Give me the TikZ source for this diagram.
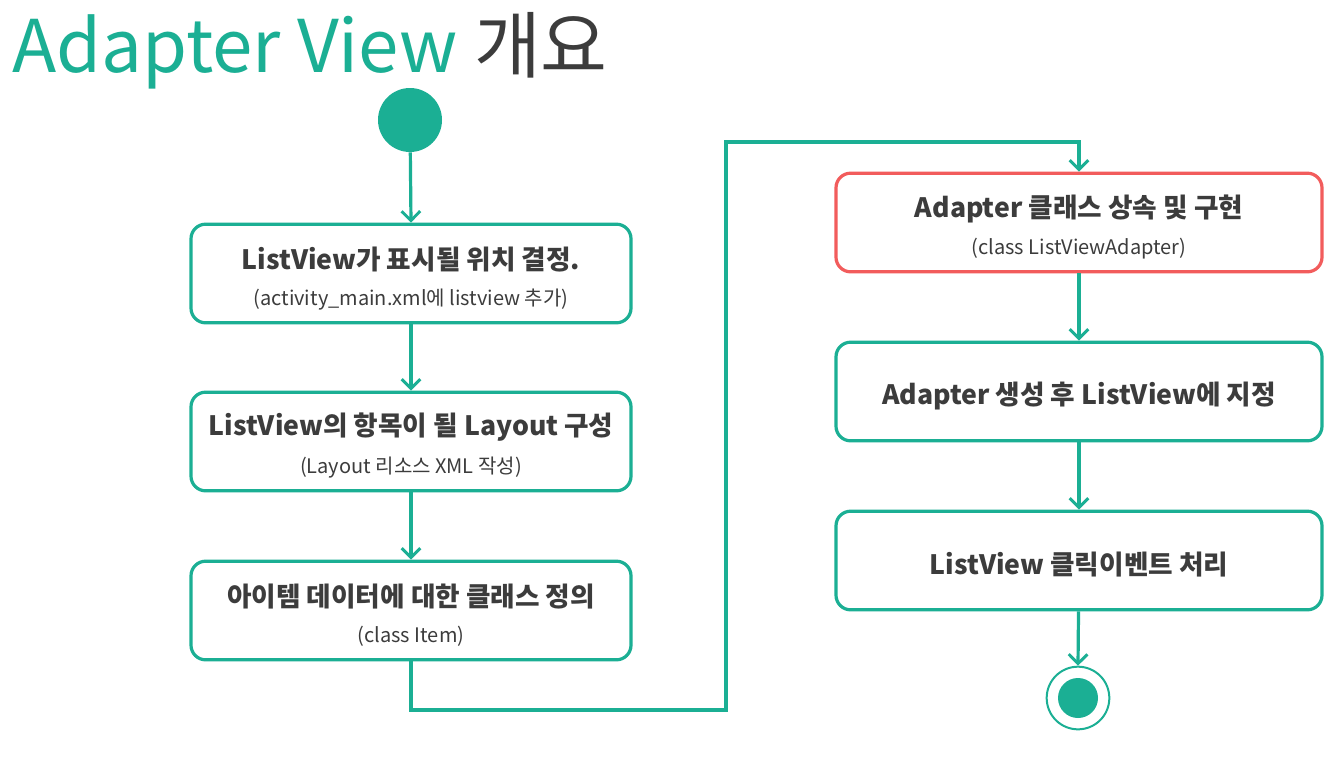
\documentclass[tikz,border=0pt]{standalone}
\usepackage{fontspec}
\setmainfont{Noto Sans CJK KR}
\usetikzlibrary{arrows.meta,calc}
\definecolor{teal1}{RGB}{27,175,148}
\definecolor{red1}{RGB}{242,92,92}
\definecolor{txt}{RGB}{60,60,60}
\begin{document}
\begin{tikzpicture}[x=0.75pt,y=-0.75pt,
  flowbox/.style={draw=teal1,line width=2.4pt,rounded corners=11pt,minimum width=330pt,minimum height=74pt,fill=white},
  widebox/.style={flowbox,minimum width=364.5pt},
  redbox/.style={widebox,draw=red1},
  maintext/.style={text=txt,font=\bfseries\fontsize{20}{24}\selectfont,inner sep=0pt},
  subtext/.style={text=txt,font=\fontsize{15}{18}\selectfont,inner sep=0pt},
  conn/.style={draw=teal1,line width=2.4pt,-{Straight Barb[length=7pt,width=14pt,line width=2.2pt]}},
  plain/.style={draw=teal1,line width=2.4pt}]
\useasboundingbox (0,0) rectangle (1336,761);
\fill[white] (0,0) rectangle (1336,761);
% title
\node[anchor=base west,inner sep=0pt,font=\fontsize{54.5}{60}\selectfont] (title) at (12,72)
  {\textcolor{teal1}{Adapter View} \textcolor{txt}{개요}};
% start
\node[circle,fill=teal1,minimum size=48pt,inner sep=0pt] (start) at (410,120) {};
% boxes
\node[flowbox] (b1) at (411,273.5) {};
\node[flowbox] (b2) at (411,441.5) {};
\node[flowbox] (b3) at (411,610.5) {};
\node[redbox] (b4) at (1079,222.5) {};
\node[widebox] (b5) at (1079,391.5) {};
\node[widebox] (b6) at (1079,560.5) {};
% texts
\node[maintext] (t1) at ($(b1.center)+(0,-14)$) {ListView가 표시될 위치 결정.};
\node[subtext] (s1) at ($(b1.center)+(0,26)$) {(activity\_main.xml에 listview 추가)};
\node[maintext] (t2) at ($(b2.center)+(0,-14)$) {ListView의 항목이 될 Layout 구성};
\node[subtext] (s2) at ($(b2.center)+(0,26)$) {(Layout 리소스 XML 작성)};
\node[maintext] (t3) at ($(b3.center)+(0,-14)$) {아이템 데이터에 대한 클래스 정의};
\node[subtext] (s3) at ($(b3.center)+(0,26)$) {(class Item)};
\node[maintext] (t4) at ($(b4.center)+(0,-14)$) {Adapter 클래스 상속 및 구현};
\node[subtext] (s4) at ($(b4.center)+(0,26)$) {(class ListViewAdapter)};
\node[maintext] (t5) at ($(b5.center)+(0,5)$) {Adapter 생성 후 ListView에 지정};
\node[maintext] (t6) at ($(b6.center)+(0,4)$) {ListView 클릭이벤트 처리};
% end
\node[circle,draw=teal1,line width=1.5pt,fill=white,minimum size=47pt,inner sep=0pt] (endo) at (1078,698) {};
\node[circle,fill=teal1,minimum size=30pt,inner sep=0pt] (endi) at (1078,698) {};
% connectors
\coordinate (c1) at (726,710);
\coordinate (c2) at (726,142);
\draw[conn] (start) -- (b1.north);
\draw[conn] (b1) -- (b2);
\draw[conn] (b2) -- (b3);
\draw[conn] (b3.south) |- (c1) -- (c2) -| (b4.north);
\draw[conn] (b4) -- (b5);
\draw[conn] (b5) -- (b6);
\draw[conn] (b6) -- (endo.north);
\end{tikzpicture}
\end{document}
